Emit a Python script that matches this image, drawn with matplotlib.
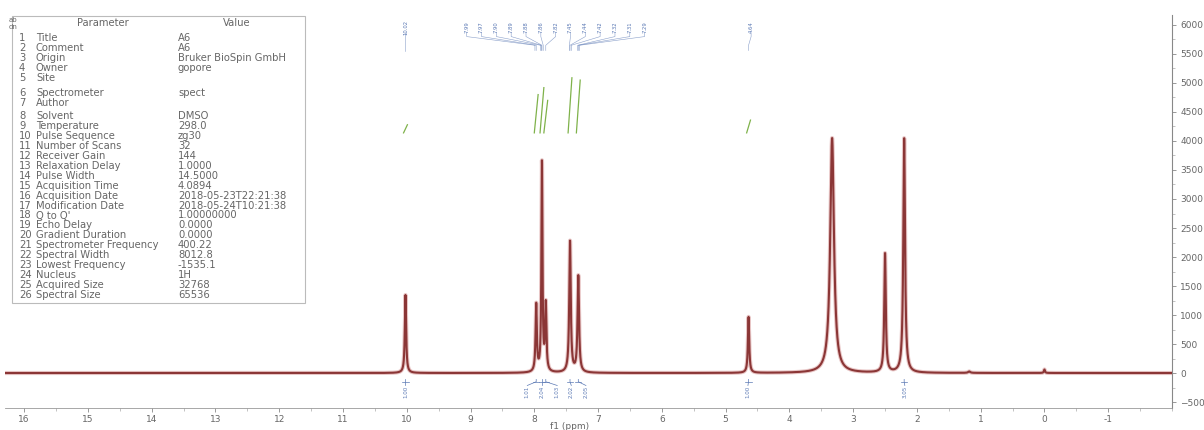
import numpy as np
import matplotlib.pyplot as plt
from matplotlib.ticker import MultipleLocator

# peaks
peak_ppm = [10.02, 7.97, 7.88, 7.82, 7.44, 7.31, 4.64, 3.33, 2.50, 2.20, 1.18, 0.00]
peak_height = [1345, 1160, 3600, 1150, 2260, 1660, 965, 4050, 2050, 4040, 25, 60]
peak_hw = [0.012, 0.012, 0.010, 0.012, 0.014, 0.014, 0.012, 0.035, 0.014, 0.016, 0.02, 0.01]

# peak picking labels (top)
top_labels = ["10.02", "7.99", "7.97", "7.90", "7.89", "7.88", "7.86", "7.82",
              "7.45", "7.44", "7.42", "7.32", "7.31", "7.29", "4.64"]
# integrals (bottom)
integ_ppm = [10.02, 7.97, 7.88, 7.82, 7.44, 7.31, 4.64, 2.20]
integ_vals = ["1.00", "1.01", "2.04", "1.03", "2.02", "2.05", "1.00", "3.05"]
integ_top = [4280, 4800, 4920, 4700, 5090, 5050, 4360, 0]

param_names = ["Title", "Comment", "Origin", "Owner", "Site", "Spectrometer", "Author",
               "Solvent", "Temperature", "Pulse Sequence", "Number of Scans", "Receiver Gain",
               "Relaxation Delay", "Pulse Width", "Acquisition Time", "Acquisition Date",
               "Modification Date", "Q to Q'", "Echo Delay", "Gradient Duration",
               "Spectrometer Frequency", "Spectral Width", "Lowest Frequency", "Nucleus",
               "Acquired Size", "Spectral Size"]
param_values = ["A6", "A6", "Bruker BioSpin GmbH", "gopore", "", "spect", "", "DMSO", "298.0",
                "zg30", "32", "144", "1.0000", "14.5000", "4.0894", "2018-05-23T22:21:38",
                "2018-05-24T10:21:38", "1.00000000", "0.0000", "0.0000", "400.22", "8012.8",
                "-1535.1", "1H", "32768", "65536"]

line_col = '#8b3636'
blue = '#5a78b4'
green = '#7fb24a'
grey = '#666666'

fig = plt.figure(figsize=(12.04, 4.30), dpi=100)
W, H = 1204, 430
ax = fig.add_axes([5 / W, (H - 408) / H, 1167 / W, 393 / H])

ppm = np.linspace(16.3, -2.0, 30000)
spec = np.zeros_like(ppm)
for p, h, w in zip(peak_ppm, peak_height, peak_hw):
    spec += h * w ** 2 / ((ppm - p) ** 2 + w ** 2)

ax.plot(ppm, spec, color='#d9a0a0', lw=3.0, alpha=0.6, zorder=2)
ax.plot(ppm, spec, color=line_col, lw=1.5, zorder=3)

ax.set_xlim(16.3, -2.0)
ax.set_ylim(-603, 6172)

for s in ['top', 'left']:
    ax.spines[s].set_visible(False)
ax.spines['right'].set_color('#888888')
ax.spines['bottom'].set_color('#999999')
ax.spines['right'].set_linewidth(0.8)
ax.spines['bottom'].set_linewidth(0.6)
ax.yaxis.tick_right()
ax.xaxis.set_major_locator(MultipleLocator(1))
ax.xaxis.set_minor_locator(MultipleLocator(0.5))
ax.yaxis.set_major_locator(MultipleLocator(500))
ax.yaxis.set_minor_locator(MultipleLocator(250))
ax.tick_params(axis='both', which='major', labelsize=6.5, labelcolor=grey, color='#888888',
               length=3, width=0.6, pad=2)
ax.tick_params(axis='both', which='minor', color='#aaaaaa', length=2, width=0.5)
ax.tick_params(axis='y', pad=3)
ax.set_xticks(np.arange(16, -2, -1))
ax.set_xticklabels([str(v) for v in range(16, -2, -1)])
ax.set_xlabel('f1 (ppm)', fontsize=6.5, color=grey, labelpad=0)
ax.xaxis.set_label_coords(0.484, -0.035)

# top peak labels
single_x = {0: 10.02, 14: 4.60}
cluster_x = np.linspace(9.06, 6.27, 13)
for i, lab in enumerate(top_labels):
    lx = single_x[i] if i in single_x else cluster_x[i - 1]
    px = float(lab)
    ax.text(lx, 5966, lab, rotation=90, ha='center', va='center', fontsize=3.8, color=blue)
    ax.plot([lx, lx, px, px], [5870, 5800, 5650, 5560], color=blue, lw=0.4, alpha=0.7)

# integral curves
for p, t in zip(integ_ppm, integ_top):
    if t > 0:
        ax.plot([p + 0.03, p - 0.03], [4140, t], color=green, lw=0.9)

# integral labels below baseline
lab_x = [10.02, 8.11, 7.88, 7.64, 7.42, 7.19, 4.65, 2.19]
for p, lx, v in zip(integ_ppm, lab_x, integ_vals):
    ax.plot([p + 0.05, p - 0.05], [-150, -150], color=blue, lw=0.5)
    ax.plot([p, p, lx], [-110, -150, -215], color=blue, lw=0.5)
    ax.text(lx, -330, v, rotation=90, ha='center', va='center', fontsize=4.0, color=blue)

# parameter table overlay in pixel coordinates
ov = fig.add_axes([0, 0, 1, 1], facecolor='none')
ov.set_xlim(0, W)
ov.set_ylim(H, 0)
ov.axis('off')
ov.add_patch(plt.Rectangle((12, 16), 293, 287, fill=True, facecolor='white',
                           edgecolor='#bbbbbb', lw=0.8))
ov.text(9, 20, 'ab', fontsize=5, color=grey, va='center')
ov.text(9, 27, 'dn', fontsize=5, color=grey, va='center')
ov.text(103, 23, 'Parameter', fontsize=7.2, color=grey, ha='center', va='center')
ov.text(237, 23, 'Value', fontsize=7.2, color=grey, ha='center', va='center')
row_y = np.concatenate([38 + 10 * np.arange(5), [93, 103], 116 + 9.95 * np.arange(19)])
for i, (nm, vl) in enumerate(zip(param_names, param_values)):
    y = row_y[i]
    ov.text(19, y, str(i + 1), fontsize=7.2, color=grey, va='center')
    ov.text(36, y, nm, fontsize=7.2, color=grey, va='center')
    ov.text(178, y, vl, fontsize=7.2, color=grey, va='center')

fig.savefig('out.png', dpi=100, facecolor='white')
